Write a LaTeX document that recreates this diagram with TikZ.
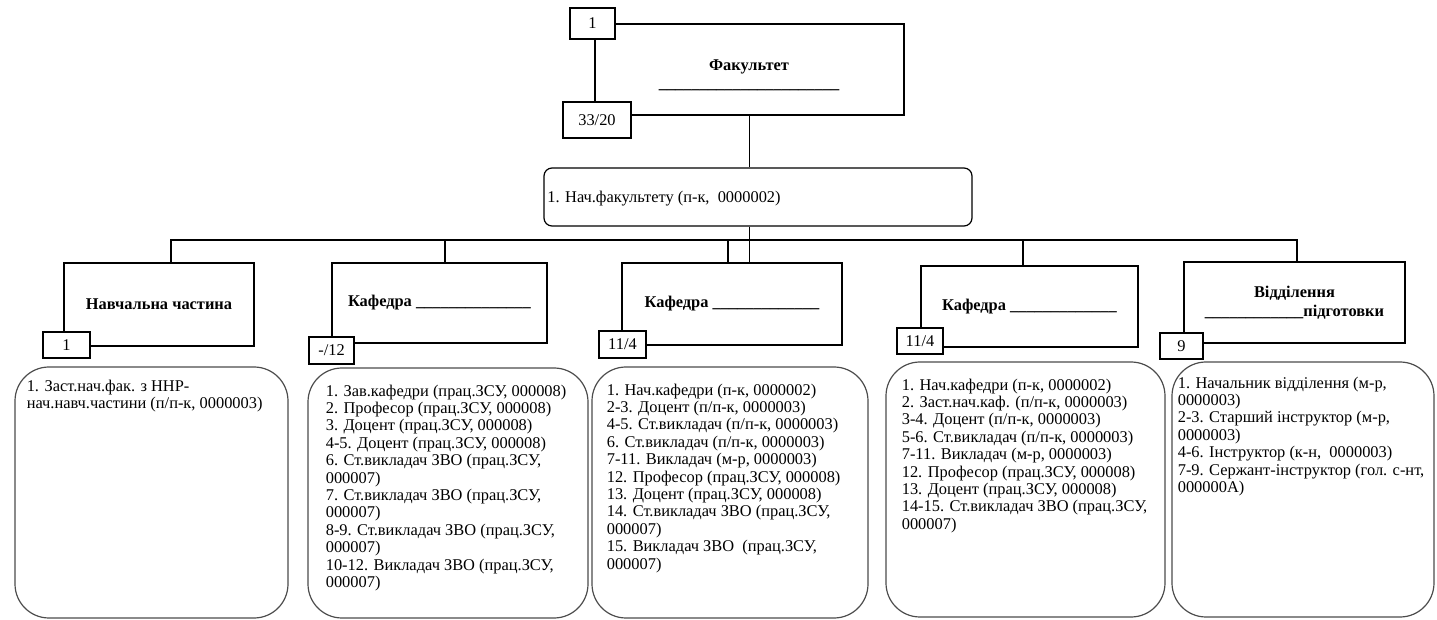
\documentclass[tikz,border=0pt]{standalone}
\usepackage{fontspec}
\setmainfont{Liberation Serif}
\begin{document}
\begin{tikzpicture}[x=0.5pt,y=-0.5pt,
  font=\fontsize{8.2pt}{8.7pt}\selectfont,
  rbox/.style={draw, line width=0.8pt, inner sep=0pt, align=center},
  numbox/.style={draw, fill=white, line width=0.8pt, inner sep=0pt},
  listbox/.style={draw=black!70, line width=0.6pt, rounded corners=17pt, inner sep=0pt},
  listtxt/.style={anchor=north west, inner sep=0pt, align=left},
  conn/.style={line width=0.8pt}]
\useasboundingbox (0,0) rectangle (1437,620);

% top: faculty
\node[rbox, minimum width=154.5pt, minimum height=45.5pt] (fac) at (749.5,69.5) {};
\node[align=center, inner sep=0pt, font=\fontsize{8.2pt}{8.8pt}\selectfont\bfseries] (factxt) at (749,75)
  {Факультет\\\_\_\_\_\_\_\_\_\_\_\_\_\_\_\_\_\_\_\_\_\_\_};
\node[numbox, minimum width=22.5pt, minimum height=15.5pt] (n1) at (592.5,23.5) {1};
\node[numbox, minimum width=34pt, minimum height=18pt] (n33) at (597,120) {33/20};

\node[draw, line width=0.6pt, rounded corners=4pt, minimum width=214pt, minimum height=29pt, inner sep=0pt] (chief) at (758,197) {};
\node[anchor=west, inner sep=0pt] (chieftxt) at (547,199) {1. Нач.факультету (п-к,\ \ 0000002)};

% department boxes
\node[rbox, minimum width=95pt, minimum height=41.5pt] (nav) at (159,304.5) {\textbf{Навчальна частина}};
\node[rbox, minimum width=107.5pt, minimum height=40pt] (k2) at (439.5,303) {\textbf{Кафедра \_\_\_\_\_\_\_\_\_\_\_\_\_\_}};
\node[rbox, minimum width=110pt, minimum height=41pt] (k3) at (732,304) {\textbf{Кафедра \_\_\_\_\_\_\_\_\_\_\_\_\_}};
\node[rbox, minimum width=108.5pt, minimum height=40.5pt] (k4) at (1029.5,306.5) {\textbf{Кафедра \_\_\_\_\_\_\_\_\_\_\_\_\_}};
\node[rbox, minimum width=110.5pt, minimum height=40.5pt, font=\fontsize{8.2pt}{9.5pt}\selectfont\bfseries] (vid) at (1294.5,302.5) {Відділення\\\_\_\_\_\_\_\_\_\_\_\_\_підготовки};

\node[numbox, minimum width=23.5pt, minimum height=13pt] (nnav) at (66.5,345) {1};
\node[numbox, minimum width=22.5pt, minimum height=13.5pt] (nk2) at (331.5,350.5) {-/12};
\node[numbox, minimum width=23.5pt, minimum height=13.5pt] (nk3) at (622.5,344.5) {11/4};
\node[numbox, minimum width=23pt, minimum height=13pt] (nk4) at (920,341) {11/4};
\node[numbox, minimum width=21.5pt, minimum height=13pt] (nvid) at (1181.5,346) {9};

% connectors
\coordinate (bus) at (0,240);
\coordinate (d1) at ([xshift=6pt]nav.north);
\coordinate (d2) at ([xshift=2.75pt]k2.north);
\coordinate (d3) at ([xshift=-2pt]k3.north);
\coordinate (d4) at ([xshift=-3.25pt]k4.north);
\coordinate (d5) at ([xshift=1.25pt]vid.north);
\draw[conn] (fac.south) -- (fac.south |- chief.north);
\draw[conn] (fac.south |- chief.south) -- (fac.south |- k3.north);
\draw[conn] (d1) -- (d1 |- bus) -- (d5 |- bus) -- (d5);
\draw[conn] (d2) -- (d2 |- bus);
\draw[conn] (d3) -- (d3 |- bus);
\draw[conn] (d4) -- (d4 |- bus);

% list boxes
\node[listbox, minimum width=136.5pt, minimum height=125.5pt] (b1) at (151.5,492.5) {};
\node[listbox, minimum width=140pt, minimum height=125pt] (b2) at (448,493) {};
\node[listbox, minimum width=138pt, minimum height=125.5pt] (b3) at (730,492.5) {};
\node[listbox, minimum width=139.5pt, minimum height=127.5pt] (b4) at (1025.5,489.5) {};
\node[listbox, minimum width=131pt, minimum height=127.5pt] (b5) at (1303,489.5) {};

\node[listtxt] (t1) at ([xshift=6pt,yshift=-6.5pt]b1.north west)
  {1. Заст.нач.фак. з ННР-\\нач.навч.частини (п/п-к, 0000003)};
\node[listtxt] (t2) at ([xshift=9pt,yshift=-8.5pt]b2.north west)
  {1. Зав.кафедри (прац.ЗСУ, 000008)\\
   2. Професор (прац.ЗСУ, 000008)\\
   3. Доцент (прац.ЗСУ, 000008)\\
   4-5. Доцент (прац.ЗСУ, 000008)\\
   6. Ст.викладач ЗВО (прац.ЗСУ,\\
   000007)\\
   7. Ст.викладач ЗВО (прац.ЗСУ,\\
   000007)\\
   8-9. Ст.викладач ЗВО (прац.ЗСУ,\\
   000007)\\
   10-12. Викладач ЗВО (прац.ЗСУ,\\
   000007)};
\node[listtxt] (t3) at ([xshift=7.5pt,yshift=-8.5pt]b3.north west)
  {1. Нач.кафедри (п-к, 0000002)\\
   2-3. Доцент (п/п-к, 0000003)\\
   4-5. Ст.викладач (п/п-к, 0000003)\\
   6. Ст.викладач (п/п-к, 0000003)\\
   7-11. Викладач (м-р, 0000003)\\
   12. Професор (прац.ЗСУ, 000008)\\
   13. Доцент (прац.ЗСУ, 000008)\\
   14. Ст.викладач ЗВО (прац.ЗСУ,\\
   000007)\\
   15. Викладач ЗВО\ \ (прац.ЗСУ,\\
   000007)};
\node[listtxt] (t4) at ([xshift=8pt,yshift=-8.5pt]b4.north west)
  {1. Нач.кафедри (п-к, 0000002)\\
   2. Заст.нач.каф. (п/п-к, 0000003)\\
   3-4. Доцент (п/п-к, 0000003)\\
   5-6. Ст.викладач (п/п-к, 0000003)\\
   7-11. Викладач (м-р, 0000003)\\
   12. Професор (прац.ЗСУ, 000008)\\
   13. Доцент (прац.ЗСУ, 000008)\\
   14-15. Ст.викладач ЗВО (прац.ЗСУ,\\
   000007)};
\node[listtxt] (t5) at ([xshift=3pt,yshift=-7.5pt]b5.north west)
  {1. Начальник відділення (м-р,\\
   0000003)\\
   2-3. Старший інструктор (м-р,\\
   0000003)\\
   4-6. Інструктор (к-н,\ \ 0000003)\\
   7-9. Сержант-інструктор (гол. с-нт,\\
   000000А)};
\end{tikzpicture}
\end{document}
